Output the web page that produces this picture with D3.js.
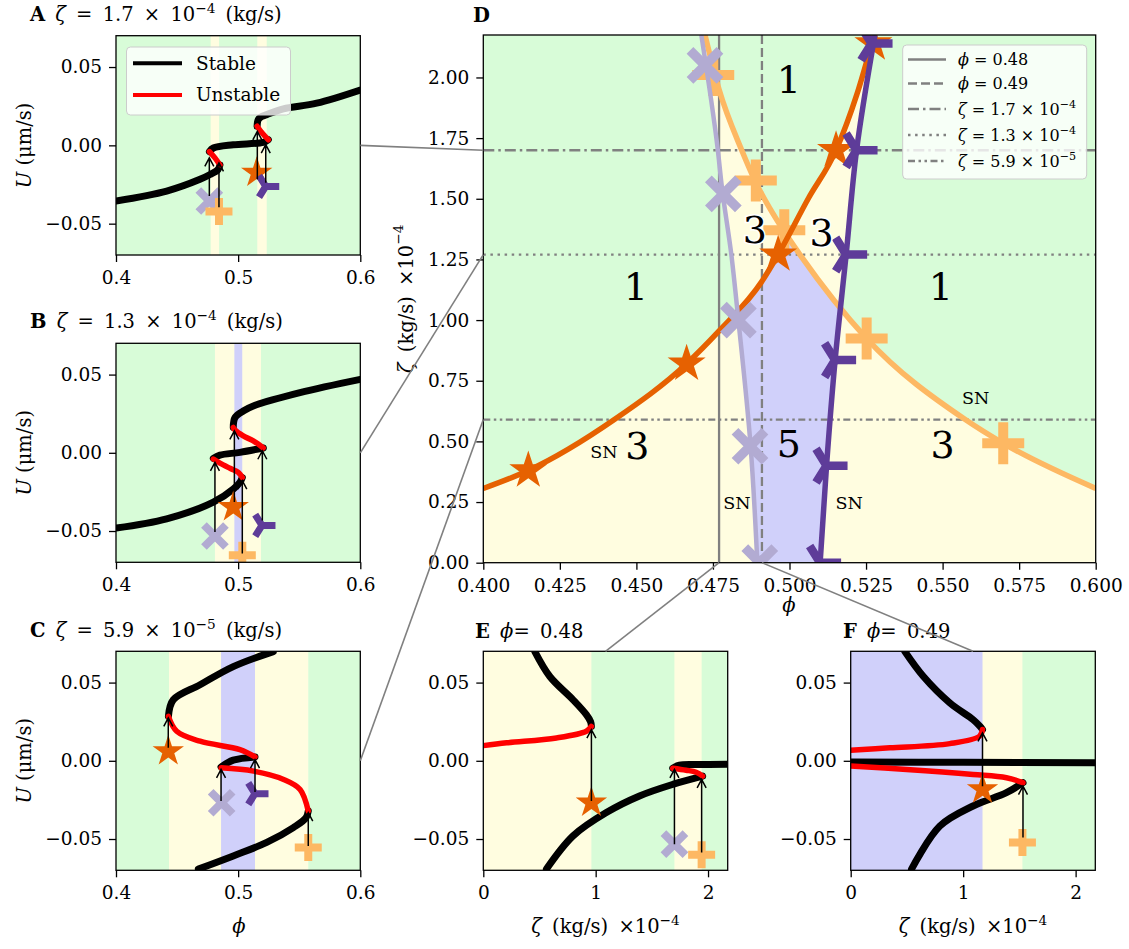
<!DOCTYPE html>
<html lang="en">
<head>
<meta charset="utf-8" />
<style>
    body { margin: 0; background: #fff; }
    svg { font-family: "DejaVu Serif", "Liberation Serif", serif; }
    text { white-space: pre; }
    .tick line { stroke: #000; stroke-width: 1.3px; }
    .tick text { font-family: "DejaVu Serif", serif; font-size: 18.5px; fill: #000; }
    .frame { fill: none; stroke: #000; stroke-width: 1.3px; }
    .stable { fill: none; stroke: #000; stroke-width: 7px; stroke-linecap: round; stroke-linejoin: round; }
    .unstable { fill: none; stroke: #ff0000; stroke-width: 5.5px; stroke-linecap: round; stroke-linejoin: round; }
    .arrow { fill: none; stroke: #000; stroke-width: 1.5px; }
    .ref { fill: none; stroke: #808080; stroke-width: 2.3px; }
    .conn { fill: none; stroke: #808080; stroke-width: 1.6px; }
</style>
</head>
<body>
<script src="https://cdn.jsdelivr.net/npm/d3@7"></script>
<script>

    // ---- panel D: saddle-node curves, [phi, zeta (x1e-4 kg/s)] ----
    var snStar  = [[0.400, 0.306], [0.4147, 0.38], [0.4428, 0.59], [0.4664, 0.82], [0.477, 0.955], [0.491, 1.16],
                   [0.4963, 1.27], [0.5061, 1.50], [0.5152, 1.70], [0.522, 1.93], [0.5277, 2.175], [0.529, 2.23]];
    var snPlus  = [[0.4724, 2.175], [0.477, 1.95], [0.4844, 1.70], [0.4887, 1.575], [0.498, 1.37], [0.5034, 1.27],
                   [0.5252, 0.924], [0.5574, 0.59], [0.5698, 0.492], [0.600, 0.306]];
    var snCross = [[0.4895, 0.0], [0.4873, 0.48], [0.4833, 1.00], [0.481, 1.27], [0.4779, 1.55], [0.4766, 1.70], [0.4712, 2.175]];
    var snTri   = [[0.5100, 0.0], [0.5121, 0.40], [0.5149, 0.835], [0.5185, 1.27], [0.5219, 1.70], [0.5279, 2.175]];

    var mkStar  = [[0.4147, 0.38], [0.4664, 0.82], [0.4963, 1.27], [0.5152, 1.70], [0.5274, 2.14]];
    var mkPlus  = [[0.4751, 2.01], [0.4890, 1.575], [0.4983, 1.37], [0.5252, 0.924], [0.5698, 0.492]];
    var mkCross = [[0.4724, 2.05], [0.4784, 1.52], [0.4833, 1.00], [0.4871, 0.48], [0.4903, 0.0]];
    var mkTri   = [[0.5100, 0.0], [0.5121, 0.40], [0.5149, 0.835], [0.5185, 1.27], [0.5219, 1.70], [0.5268, 2.14]];

    var refPhi  = [0.477, 0.491];          // panels E, F
    var refZeta = [1.70, 1.27, 0.59];      // panels A, B, C

    var regionLabels = [["1", 0.4998, 1.99], ["1", 0.4498, 1.135], ["1", 0.5494, 1.135], ["3", 0.4887, 1.37],
                        ["3", 0.5105, 1.36], ["3", 0.4503, 0.481], ["5", 0.4998, 0.489], ["3", 0.5500, 0.485]];
    var snLabels = [[0.4394, 0.457], [0.4828, 0.245], [0.5608, 0.677], [0.5195, 0.245]];

    // ---- panel A: zeta = 1.7e-4, [phi, U] ----
    var bandsA = [[0.4, 0.4775, 1], [0.4775, 0.4844, 3], [0.4844, 0.5157, 1], [0.5157, 0.5234, 3], [0.5234, 0.6, 1]];
    var stableA = [
        [[0.400, -0.0355], [0.4415, -0.0292], [0.4688, -0.0217], [0.477, -0.0186], [0.4835, -0.0155], [0.4851, -0.0125]],
        [[0.4765, -0.0040], [0.4797, -0.0017], [0.496, 0.0004], [0.5206, 0.0019], [0.5247, 0.0036]],
        [[0.5155, 0.0122], [0.5165, 0.0165], [0.5193, 0.0184], [0.5234, 0.0196], [0.537, 0.0233], [0.5643, 0.0269], [0.600, 0.0353]]
    ];
    var unstableA = [
        [[0.4851, -0.0125], [0.481, -0.0080], [0.4765, -0.0040]],
        [[0.5247, 0.0036], [0.5200, 0.0075], [0.5155, 0.0122]]
    ];
    var arrowsA = [[0.4764, -0.0323, -0.0080], [0.4843, -0.0395, -0.0112], [0.5157, -0.0217, 0.0089], [0.5226, -0.0238, 0.0004]];
    var marksA = [["cross", 0.4764, -0.0355], ["plus", 0.4843, -0.0422], ["star", 0.5152, -0.0175], ["tri", 0.5226, -0.0262]];

    // ---- panel B: zeta = 1.3e-4 ----
    var bandsB = [[0.4, 0.481, 1], [0.481, 0.4969, 3], [0.4969, 0.5034, 5], [0.5034, 0.5187, 3], [0.5187, 0.6, 1]];
    var stableB = [
        [[0.400, -0.0481], [0.4415, -0.0422], [0.4797, -0.0316], [0.4961, -0.0231], [0.5015, -0.0188], [0.5034, -0.0158]],
        [[0.4797, -0.0036], [0.4851, -0.0015], [0.5015, 0.0003], [0.5206, 0.0031]],
        [[0.496, 0.0162], [0.4974, 0.0225], [0.5042, 0.0267], [0.5124, 0.0299], [0.5506, 0.0384], [0.600, 0.0469]]
    ];
    var unstableB = [
        [[0.5034, -0.0158], [0.5001, -0.0125], [0.4933, -0.0099], [0.4851, -0.0066], [0.4797, -0.0040]],
        [[0.5206, 0.0031], [0.5124, 0.0076], [0.5042, 0.0108], [0.4974, 0.0146], [0.496, 0.0162]]
    ];
    var arrowsB = [[0.481, -0.0506, -0.0061], [0.4969, -0.0315, 0.0140], [0.5034, -0.0644, -0.0178], [0.5198, -0.0432, 0.0013]];
    var marksB = [["cross", 0.481, -0.0532], ["star", 0.496, -0.0347], ["plus", 0.5034, -0.0655], ["tri", 0.5195, -0.0464]];

    // ---- panel C: zeta = 5.9e-5 ----
    var bandsC = [[0.4, 0.4434, 1], [0.4434, 0.486, 3], [0.486, 0.5138, 5], [0.5138, 0.5574, 3], [0.5574, 0.6, 1]];
    var stableC = [
        [[0.4674, -0.0692], [0.496, -0.0608], [0.5234, -0.0522], [0.5452, -0.0427], [0.5555, -0.0365], [0.5574, -0.0321]],
        [[0.486, -0.0040], [0.496, 0.0004], [0.5138, 0.0025]],
        [[0.4429, 0.0284], [0.4469, 0.0390], [0.4688, 0.0486], [0.496, 0.0602], [0.5288, 0.0698]]
    ];
    var unstableC = [
        [[0.5574, -0.0321], [0.5507, -0.0183], [0.5372, -0.0119], [0.5126, -0.0066], [0.486, -0.0045]],
        [[0.5138, 0.0025], [0.5015, 0.0072], [0.4688, 0.0125], [0.4497, 0.0189], [0.4429, 0.0284]]
    ];
    var arrowsC = [[0.4428, 0.0083, 0.0274], [0.486, -0.0257, -0.0055], [0.5138, -0.0200, 0.0008], [0.5574, -0.0544, -0.0331]];
    var marksC = [["star", 0.4428, 0.0061], ["cross", 0.4865, -0.0268], ["tri", 0.5138, -0.0210], ["plus", 0.5574, -0.0554]];

    // ---- panel E: phi = 0.48, [zeta, U] ----
    var bandsE = [[0, 0.962, 3], [0.962, 1.701, 1], [1.701, 1.943, 3], [1.943, 2.175, 1]];
    var stableE = [
        [[0.459, 0.0698], [0.592, 0.0539], [0.799, 0.0390], [0.917, 0.0295], [0.955, 0.0250], [0.962, 0.0220]],
        [[0.562, -0.0692], [0.799, -0.0480], [1.095, -0.0331], [1.39, -0.0225], [1.686, -0.0151], [1.952, -0.0098]],
        [[1.686, -0.0047], [1.745, -0.0028], [1.90, -0.0024], [2.175, -0.0022]]
    ];
    var unstableE = [
        [[0.962, 0.0220], [0.917, 0.0189], [0.651, 0.0146], [0.208, 0.0115], [0, 0.0097]],
        [[1.952, -0.0098], [1.894, -0.0073], [1.805, -0.0060], [1.686, -0.0047]]
    ];
    var arrowsE = [[0.962, -0.0257, 0.0199], [1.701, -0.0533, -0.0055], [1.943, -0.0586, -0.0119]];
    var marksE = [["star", 0.962, -0.0268], ["cross", 1.701, -0.0533], ["plus", 1.943, -0.0601]];

    // ---- panel F: phi = 0.49 ----
    var bandsF = [[0, 1.172, 5], [1.172, 1.527, 3], [1.527, 2.175, 1]];
    var stableF = [
        [[0.482, 0.0698], [0.645, 0.0540], [0.881, 0.0370], [1.088, 0.0263], [1.15, 0.0220], [1.172, 0.0200]],
        [[0, -0.0008], [1.0, -0.0010], [2.175, -0.0013]],
        [[1.532, -0.0140], [1.385, -0.0204], [1.088, -0.0289], [0.793, -0.0417], [0.541, -0.0692]]
    ];
    var unstableF = [
        [[1.172, 0.0200], [1.145, 0.0157], [0.881, 0.0110], [0.348, 0.0083], [0, 0.0068]],
        [[0, -0.0034], [0.497, -0.0055], [1.088, -0.0087], [1.385, -0.0108], [1.532, -0.0140]]
    ];
    var arrowsF = [[1.172, -0.0162, 0.0178], [1.532, -0.0490, -0.0162]];
    var marksF = [["star", 1.172, -0.0183], ["plus", 1.527, -0.0522]];

    var uTicks = [-0.05, 0, 0.05];

    // ---------------------------------------------------------------
    var bandFill = {1: "#d8fcd8", 3: "#fffde0", 5: "#d0d0fa"};
    var markColor = {star: "#e66101", plus: "#fdb863", cross: "#b2abd2", tri: "#5e3c99"};
    var smallMk = {star: 16.5, plus: 13.5, plusW: 8, cross: 11, crossW: 8, tri: 13.5, triW: 7};
    var bigMk = {star: 20, plus: 21, plusW: 10, cross: 15, crossW: 9.5, tri: 21, triW: 8.5};

    var svg = d3.select("body").append("svg").attr("width", 1129).attr("height", 949);
    var defs = svg.append("defs");
    var nClip = 0;

    function clipPath(d) {
        var id = "clip" + (nClip++);
        defs.append("clipPath").attr("id", id).append("path").attr("d", d);
        return "url(#" + id + ")";
    }
    function rectPath(b) {
        return "M" + b[0] + "," + b[1] + "H" + b[2] + "V" + b[3] + "H" + b[0] + "Z";
    }

    function richText(sel, parts, fs) {
        var up = false;
        parts.forEach(function (p) {
            var t = sel.append("tspan").text(p[0]);
            var k = p[1] || "";
            if (k === "b") t.attr("font-weight", "bold");
            if (k === "i") t.attr("font-style", "italic");
            if (k === "sup") {
                t.attr("font-size", fs * 0.7).attr("dy", -fs * 0.42);
                up = true;
            } else if (up) {
                t.attr("dy", fs * 0.42);
                up = false;
            }
        });
        return sel;
    }

    function marker(g, type, cx, cy, s) {
        var c = markColor[type];
        if (type === "star") {
            g.append("path")
                .attr("transform", "translate(" + cx + "," + cy + ")")
                .attr("d", d3.symbol(d3.symbolStar, s.star * s.star / 0.8908130915)())
                .attr("fill", c);
        } else if (type === "plus") {
            var h = s.plus;
            g.append("path")
                .attr("d", "M" + (cx - h) + "," + cy + "H" + (cx + h) + "M" + cx + "," + (cy - h) + "V" + (cy + h))
                .attr("stroke", c).attr("stroke-width", s.plusW).attr("fill", "none");
        } else if (type === "cross") {
            var k = s.cross;
            g.append("path")
                .attr("d", "M" + (cx - k) + "," + (cy - k) + "L" + (cx + k) + "," + (cy + k) +
                           "M" + (cx - k) + "," + (cy + k) + "L" + (cx + k) + "," + (cy - k))
                .attr("stroke", c).attr("stroke-width", s.crossW).attr("fill", "none");
        } else {
            var r = s.tri;
            g.append("path")
                .attr("d", "M" + cx + "," + cy + "H" + (cx + r) +
                           "M" + cx + "," + cy + "L" + (cx - 0.5 * r) + "," + (cy - 0.8 * r) +
                           "M" + cx + "," + cy + "L" + (cx - 0.5 * r) + "," + (cy + 0.8 * r))
                .attr("stroke", c).attr("stroke-width", s.triW).attr("fill", "none");
        }
    }

    function arrow(g, px, y0, y1) {
        g.append("path").attr("class", "arrow")
            .attr("d", "M" + px + "," + y0 + "V" + y1 +
                       "M" + (px - 4.5) + "," + (y1 + 8.5) + "L" + px + "," + y1 + "L" + (px + 4.5) + "," + (y1 + 8.5));
    }

    function axes(x, y, box, xTicks, xFmt, yTicks, yFmt) {
        svg.append("g").attr("transform", "translate(0," + box[3] + ")")
            .call(d3.axisBottom(x).tickValues(xTicks).tickFormat(d3.format(xFmt)).tickSize(7).tickPadding(9))
            .call(function (a) { a.select(".domain").remove(); });
        svg.append("g").attr("transform", "translate(" + box[0] + ",0)")
            .call(d3.axisLeft(y).tickValues(yTicks).tickFormat(d3.format(yFmt)).tickSize(7).tickPadding(7))
            .call(function (a) { a.select(".domain").remove(); });
        svg.append("rect").attr("class", "frame")
            .attr("x", box[0]).attr("y", box[1]).attr("width", box[2] - box[0]).attr("height", box[3] - box[1]);
    }

    function smallPanel(box, xDom, xTicks, xFmt, bands, stable, unstable, arrows, marks) {
        var x = d3.scaleLinear().domain(xDom).range([box[0], box[2]]);
        var y = d3.scaleLinear().domain([-0.07, 0.07]).range([box[3], box[1]]);
        var g = svg.append("g").attr("clip-path", clipPath(rectPath(box)));

        g.selectAll("rect").data(bands).join("rect")
            .attr("x", function (d) { return x(d[0]); })
            .attr("width", function (d) { return x(d[1]) - x(d[0]) + 0.5; })
            .attr("y", box[1]).attr("height", box[3] - box[1])
            .attr("fill", function (d) { return bandFill[d[2]]; });

        var line = d3.line()
            .x(function (d) { return x(d[0]); })
            .y(function (d) { return y(d[1]); })
            .curve(d3.curveCatmullRom.alpha(0.5));

        g.selectAll("path.stable").data(stable).join("path").attr("class", "stable").attr("d", line);
        g.selectAll("path.unstable").data(unstable).join("path").attr("class", "unstable").attr("d", line);

        marks.forEach(function (m) { marker(g, m[0], x(m[1]), y(m[2]), smallMk); });
        arrows.forEach(function (a) { arrow(g, x(a[0]), y(a[1]), y(a[2])); });

        axes(x, y, box, xTicks, xFmt, uTicks, ".2f");
        return {x: x, y: y, box: box};
    }

    function title(x, y, parts) {
        richText(svg.append("text").attr("x", x).attr("y", y).attr("font-size", 19.5)
            .attr("word-spacing", 4), parts, 19.5);
    }

    function uLabel(box) {
        var cy = (box[1] + box[3]) / 2;
        richText(svg.append("text").attr("transform", "translate(24," + cy + ") rotate(-90)")
            .attr("text-anchor", "middle").attr("dominant-baseline", "central").attr("font-size", 19.5),
            [["U", "i"], [" (μm/s)"]], 19.5);
    }

    function zetaLabel(cx, cy, rot) {
        var t = svg.append("text").attr("text-anchor", "middle").attr("font-size", 19.5).attr("word-spacing", 4);
        if (rot) t.attr("transform", "translate(" + cx + "," + cy + ") rotate(-90)").attr("dominant-baseline", "central");
        else t.attr("x", cx).attr("y", cy);
        richText(t, [["ζ", "i"], [" (kg/s) ×10"], ["−4", "sup"]], 19.5);
    }

    // ---------------- small panels ----------------
    var pA = smallPanel([116, 35.7, 360.3, 255], [0.4, 0.6], [0.4, 0.5, 0.6], ".1f", bandsA, stableA, unstableA, arrowsA, marksA);
    var pB = smallPanel([116, 343.3, 360.3, 562.3], [0.4, 0.6], [0.4, 0.5, 0.6], ".1f", bandsB, stableB, unstableB, arrowsB, marksB);
    var pC = smallPanel([116, 651.3, 360.3, 870.3], [0.4, 0.6], [0.4, 0.5, 0.6], ".1f", bandsC, stableC, unstableC, arrowsC, marksC);
    var pE = smallPanel([483.3, 651.3, 727.7, 870.3], [0, 2.175], [0, 1, 2], "d", bandsE, stableE, unstableE, arrowsE, marksE);
    var pF = smallPanel([850.7, 651.3, 1095.3, 870.3], [0, 2.175], [0, 1, 2], "d", bandsF, stableF, unstableF, arrowsF, marksF);

    [pA, pB, pC].forEach(function (p) { uLabel(p.box); });

    // legend in A
    var legA = svg.append("g");
    legA.append("rect").attr("x", 126.5).attr("y", 47).attr("width", 164).attr("height", 68).attr("rx", 4)
        .attr("fill", "#fff").attr("fill-opacity", 0.8).attr("stroke", "#cccccc");
    [["Stable", "#000", 63.3], ["Unstable", "#ff0000", 95]].forEach(function (e) {
        legA.append("line").attr("x1", 133).attr("x2", 182).attr("y1", e[2]).attr("y2", e[2])
            .attr("stroke", e[1]).attr("stroke-width", 4);
        legA.append("text").attr("x", 196).attr("y", e[2]).attr("dy", "0.35em").attr("font-size", 18.5).text(e[0]);
    });

    // ---------------- panel D ----------------
    var boxD = [483.3, 35, 1095.7, 562.7];
    var xD = d3.scaleLinear().domain([0.4, 0.6]).range([boxD[0], boxD[2]]);
    var yD = d3.scaleLinear().domain([0, 2.175]).range([boxD[3], boxD[1]]);
    var zTop = 2.175;
    function P(phi, z) { return xD(phi) + "," + yD(z); }

    var lineX = d3.line().x(function (d) { return xD(d[0]); }).y(function (d) { return yD(d[1]); }).curve(d3.curveMonotoneX);
    var lineY = d3.line().x(function (d) { return xD(d[0]); }).y(function (d) { return yD(d[1]); }).curve(d3.curveMonotoneY);

    var belowStar = lineX(snStar) + "L" + P(0.6, snStar[snStar.length - 1][1]) + "L" + P(0.6, 0) + "L" + P(0.4, 0) + "Z";
    var belowPlus = "M" + P(0.4, zTop) + lineX(snPlus).replace(/^M/, "L") + "L" + P(0.6, 0) + "L" + P(0.4, 0) + "Z";
    var leftOfCross = lineY(snCross) + "L" + P(0.4, zTop) + "L" + P(0.4, 0) + "Z";
    var rightOfCross = lineY(snCross) + "L" + P(0.6, zTop) + "L" + P(0.6, 0) + "Z";
    var leftOfTri = lineY(snTri) + "L" + P(0.4, zTop) + "L" + P(0.4, 0) + "Z";
    var rightOfTri = lineY(snTri) + "L" + P(0.6, zTop) + "L" + P(0.6, 0) + "Z";

    var gD = svg.append("g").attr("clip-path", clipPath(rectPath(boxD)));
    gD.append("rect").attr("x", boxD[0]).attr("y", boxD[1]).attr("width", boxD[2] - boxD[0]).attr("height", boxD[3] - boxD[1])
        .attr("fill", bandFill[1]);
    gD.append("g").attr("clip-path", clipPath(leftOfCross)).append("path").attr("d", belowStar).attr("fill", bandFill[3]);
    gD.append("g").attr("clip-path", clipPath(rightOfTri)).append("path").attr("d", belowPlus).attr("fill", bandFill[3]);
    var mid = gD.append("g").attr("clip-path", clipPath(rightOfCross)).append("g").attr("clip-path", clipPath(leftOfTri));
    mid.append("path").attr("d", belowStar).attr("fill", bandFill[3]);
    mid.append("path").attr("d", belowPlus).attr("fill", bandFill[3]);
    mid.append("g").attr("clip-path", clipPath(belowPlus)).append("path").attr("d", belowStar).attr("fill", bandFill[5]);

    // reference lines
    var dashes = {phi0: null, phi1: "9,4", z0: "11,4,2.5,4", z1: "2.5,4.6", z2: "7,3.5,2.5,3.5,2.5,3.5"};
    gD.append("line").attr("class", "ref").attr("x1", xD(refPhi[0])).attr("x2", xD(refPhi[0]))
        .attr("y1", boxD[1]).attr("y2", boxD[3]);
    gD.append("line").attr("class", "ref").attr("x1", xD(refPhi[1])).attr("x2", xD(refPhi[1]))
        .attr("y1", boxD[1]).attr("y2", boxD[3]).attr("stroke-dasharray", dashes.phi1);
    refZeta.forEach(function (z, i) {
        gD.append("line").attr("class", "ref").attr("x1", boxD[0]).attr("x2", boxD[2])
            .attr("y1", yD(z)).attr("y2", yD(z)).attr("stroke-dasharray", dashes["z" + i]);
    });

    // fold curves and their markers
    [[snPlus, lineX, "plus", mkPlus, 5.5], [snStar, lineX, "star", mkStar, 5.5],
     [snCross, lineY, "cross", mkCross, 4.5], [snTri, lineY, "tri", mkTri, 5.5]].forEach(function (s) {
        gD.append("path").attr("d", s[1](s[0])).attr("fill", "none")
            .attr("stroke", markColor[s[2]]).attr("stroke-width", s[4]);
        s[3].forEach(function (m) { marker(gD, s[2], xD(m[0]), yD(m[1]), bigMk); });
    });

    // region labels
    regionLabels.forEach(function (r, i) {
        var t = gD.append("text").attr("x", xD(r[1])).attr("y", yD(r[2])).attr("text-anchor", "middle")
            .attr("dominant-baseline", "central").attr("font-size", 38).text(r[0]);
        if (i === 3 || i === 4) t.attr("stroke", "#fff").attr("stroke-width", 3).attr("paint-order", "stroke");
    });
    snLabels.forEach(function (s) {
        gD.append("text").attr("x", xD(s[0])).attr("y", yD(s[1])).attr("text-anchor", "middle")
            .attr("dominant-baseline", "central").attr("font-size", 17.5).text("SN");
    });

    axes(xD, yD, boxD, d3.range(0.4, 0.6001, 0.025), ".3f", d3.range(0, 2.001, 0.25), ".2f");

    // legend in D
    var legD = svg.append("g");
    legD.append("rect").attr("x", 902.7).attr("y", 45).attr("width", 184).attr("height", 134).attr("rx", 4)
        .attr("fill", "#fff").attr("fill-opacity", 0.8).attr("stroke", "#cccccc");
    var legRows = [
        [null, [["ϕ", "i"], [" = 0.48"]], 59.5],
        [dashes.phi1, [["ϕ", "i"], [" = 0.49"]], 83.5],
        [dashes.z0, [["ζ", "i"], [" = 1.7 × 10"], ["−4", "sup"]], 109],
        [dashes.z1, [["ζ", "i"], [" = 1.3 × 10"], ["−4", "sup"]], 135],
        [dashes.z2, [["ζ", "i"], [" = 5.9 × 10"], ["−5", "sup"]], 161]
    ];
    legRows.forEach(function (r) {
        legD.append("line").attr("class", "ref").attr("x1", 908).attr("x2", 946).attr("y1", r[2]).attr("y2", r[2])
            .attr("stroke-dasharray", r[0]);
        richText(legD.append("text").attr("x", 958).attr("y", r[2] + 5.5).attr("font-size", 16), r[1], 16);
    });

    // ---------------- titles and axis labels ----------------
    title(30, 21, [["A", "b"], [" "], ["ζ", "i"], [" = 1.7 × 10"], ["−4", "sup"], [" (kg/s)"]]);
    title(30, 328, [["B", "b"], [" "], ["ζ", "i"], [" = 1.3 × 10"], ["−4", "sup"], [" (kg/s)"]]);
    title(30, 637, [["C", "b"], [" "], ["ζ", "i"], [" = 5.9 × 10"], ["−5", "sup"], [" (kg/s)"]]);
    title(473, 22, [["D", "b"]]);
    title(475, 638, [["E", "b"], [" "], ["ϕ", "i"], ["= 0.48"]]);
    title(843, 638, [["F", "b"], [" "], ["ϕ", "i"], ["= 0.49"]]);

    svg.append("text").attr("x", 239).attr("y", 933).attr("text-anchor", "middle").attr("font-size", 19.5)
        .attr("font-style", "italic").text("ϕ");
    svg.append("text").attr("x", 789).attr("y", 612).attr("text-anchor", "middle").attr("font-size", 19.5)
        .attr("font-style", "italic").text("ϕ");
    zetaLabel(406, (boxD[1] + boxD[3]) / 2, true);
    zetaLabel((pE.box[0] + pE.box[2]) / 2, 933, false);
    zetaLabel((pF.box[0] + pF.box[2]) / 2, 933, false);

    // connectors from the slices to the diagram
    var conn = [
        [pA.x(0.6), pA.y(0), xD(0.4), yD(refZeta[0])],
        [pB.x(0.6), pB.y(0), xD(0.4), yD(refZeta[1])],
        [pC.x(0.6), pC.y(0), xD(0.4), yD(refZeta[2])],
        [xD(refPhi[0]), yD(0), (pE.box[0] + pE.box[2]) / 2, pE.box[1]],
        [xD(refPhi[1]), yD(0), (pF.box[0] + pF.box[2]) / 2, pF.box[1]]
    ];
    svg.selectAll("line.conn").data(conn).join("line").attr("class", "conn")
        .attr("x1", function (d) { return d[0]; }).attr("y1", function (d) { return d[1]; })
        .attr("x2", function (d) { return d[2]; }).attr("y2", function (d) { return d[3]; });

</script>
</body>
</html>
